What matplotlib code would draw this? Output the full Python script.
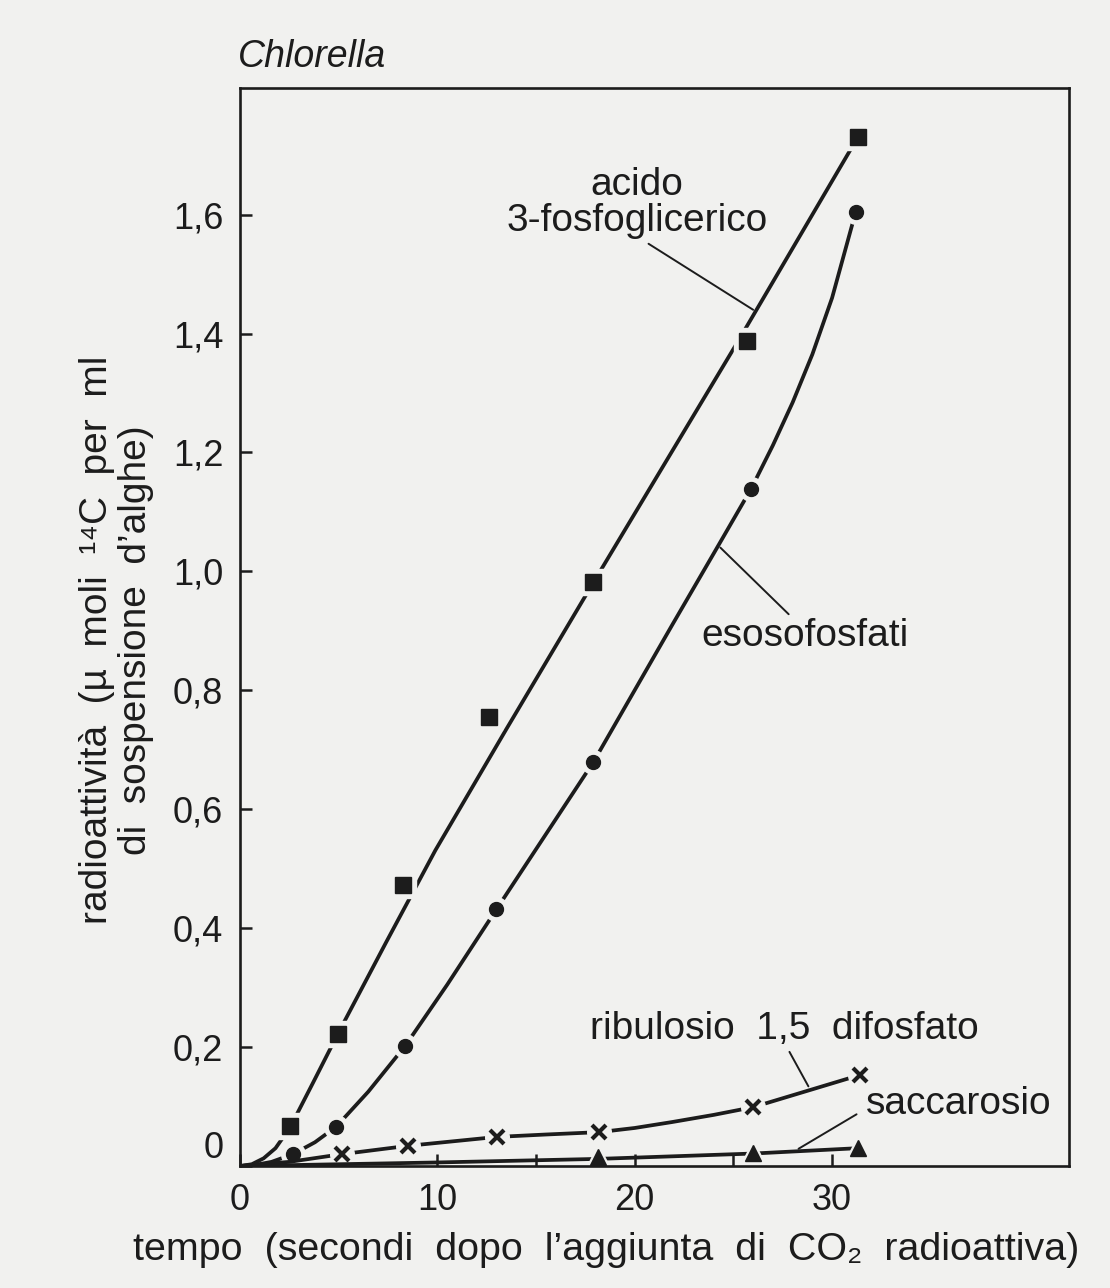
import matplotlib.pyplot as plt

plt.rcParams["font.family"] = ["Liberation Sans", "DejaVu Sans"]

BG = "#f1f1ef"
INK = "#1c1c1c"

# measured points (time in s, radioactivity)
t_pga = [2.54, 4.97, 8.27, 12.6, 17.9, 25.7, 31.3]
pga = [0.067, 0.222, 0.472, 0.755, 0.983, 1.388, 1.731]
t_eso = [2.69, 4.87, 8.37, 12.98, 17.9, 25.9, 31.2]
eso = [0.020, 0.066, 0.202, 0.432, 0.679, 1.139, 1.605]
t_rub = [5.17, 8.52, 13.03, 18.2, 26.0, 31.4]
rub = [0.020, 0.034, 0.049, 0.057, 0.099, 0.153]
t_sac = [18.15, 26.0, 31.3]
sac = [0.015, 0.022, 0.030]

# hand drawn curves
ct_pga = [0, 0.6, 1.2, 1.8, 2.54, 3.7, 4.97, 7.4, 9.9, 13.5, 17.9, 25.2, 31.3]
cy_pga = [0, 0.003, 0.013, 0.030, 0.065, 0.140, 0.223, 0.376, 0.531, 0.735,
          0.981, 1.385, 1.73]
ct_eso = [0, 0.8, 1.6, 2.69, 3.8, 4.87, 6.5, 8.37, 10.5, 13.0, 17.9, 21.9, 24.0,
          25.9, 27.0, 28.0, 29.0, 30.0, 31.2]
cy_eso = [0, 0.002, 0.007, 0.020, 0.040, 0.066, 0.125, 0.202, 0.305, 0.432, 0.679,
          0.91, 1.03, 1.139, 1.212, 1.284, 1.365, 1.46, 1.605]
ct_rub = [0, 2.5, 5.17, 8.52, 13.03, 15.5, 18.2, 20.0, 21.9, 24.0, 26.0, 31.4]
cy_rub = [0, 0.007, 0.020, 0.034, 0.049, 0.053, 0.057, 0.064, 0.074, 0.086, 0.099, 0.153]
ct_sac = [0, 10, 18.15, 26.0, 31.3]
cy_sac = [0, 0.006, 0.012, 0.021, 0.030]

x_ticks = [0, 5, 10, 15, 20, 25, 30]
x_ticklabels = ["0", "", "10", "", "20", "", "30"]
y_ticks = [0, 0.2, 0.4, 0.6, 0.8, 1.0, 1.2, 1.4, 1.6]
y_ticklabels = ["0", "0,2", "0,4", "0,6", "0,8", "1,0", "1,2", "1,4", "1,6"]

fig = plt.figure(figsize=(11.1, 12.88), dpi=100, facecolor=BG)
ax = fig.add_axes([0.2162, 0.0947, 0.7468, 0.837])
ax.set_facecolor(BG)

series = [
    (t_pga, pga, ct_pga, cy_pga, "s", 12, 0),
    (t_eso, eso, ct_eso, cy_eso, "o", 10, 0),
    (t_rub, rub, ct_rub, cy_rub, "x", 10, 3.0),
    (t_sac, sac, ct_sac, cy_sac, "^", 12, 0),
]
for i, (tx, ty, cx, cy, mk, ms, mew) in enumerate(series):
    z = 2 + i
    ax.plot(cx, cy, color=INK, lw=2.7, zorder=z, solid_capstyle="butt",
            solid_joinstyle="round")
    ax.plot(tx, ty, ls="none", marker="o" if mk == "x" else mk,
            ms=ms + 7, color=BG, mec=BG, zorder=z + 0.1)
    ax.plot(tx, ty, ls="none", marker=mk, ms=ms, color=INK, mec=INK,
            mew=mew if mew else 1, zorder=z + 0.2)

ax.set_xlim(0, 42.0)
ax.set_ylim(0, 1.813)
ax.set_xticks(x_ticks)
ax.set_xticklabels(x_ticklabels)
ax.set_yticks(y_ticks)
ax.set_yticklabels(y_ticklabels)
ax.tick_params(direction="in", length=8.5, width=1.8, labelsize=26,
               colors=INK, pad=12)
ax.get_yticklabels()[0].set_verticalalignment("bottom")
for sp in ax.spines.values():
    sp.set_linewidth(1.9)
    sp.set_color(INK)
    sp.set_zorder(10)

line_kw = dict(arrowprops=dict(arrowstyle="-", lw=1.4, color=INK,
                               shrinkA=0, shrinkB=0))
txt_kw = dict(fontsize=28, color=INK, ha="center", va="center")

ax.text(20.1, 1.62, "acido\n3-fosfoglicerico", linespacing=1.0, **txt_kw)
ax.annotate("", xy=(26.0, 1.44), xytext=(20.7, 1.551), **line_kw)
ax.text(28.65, 0.892, "esosofosfati", **txt_kw)
ax.annotate("", xy=(27.8, 0.928), xytext=(24.34, 1.04), **line_kw)
ax.text(27.6, 0.230, "ribulosio  1,5  difosfato", **txt_kw)
ax.annotate("", xy=(28.8, 0.134), xytext=(27.84, 0.192), **line_kw)
ax.text(36.4, 0.104, "saccarosio", **txt_kw)
ax.annotate("", xy=(28.3, 0.029), xytext=(31.24, 0.087), **line_kw)

fig.text(0.2144, 0.9557, "Chlorella", fontsize=27, style="italic",
         color=INK, ha="left", va="center")
fig.text(0.105, 0.503,
         "radioattività  (µ  moli  ¹⁴C  per  ml\ndi  sospensione  d’alghe)",
         rotation=90, ha="center", va="center", multialignment="center",
         fontsize=28, color=INK, linespacing=1.12)
fig.text(0.546, 0.0295,
         "tempo  (secondi  dopo  l’aggiunta  di  CO₂  radioattiva)",
         ha="center", va="center", fontsize=28.4, color=INK)

fig.savefig("out.png", dpi=100, facecolor=BG)
